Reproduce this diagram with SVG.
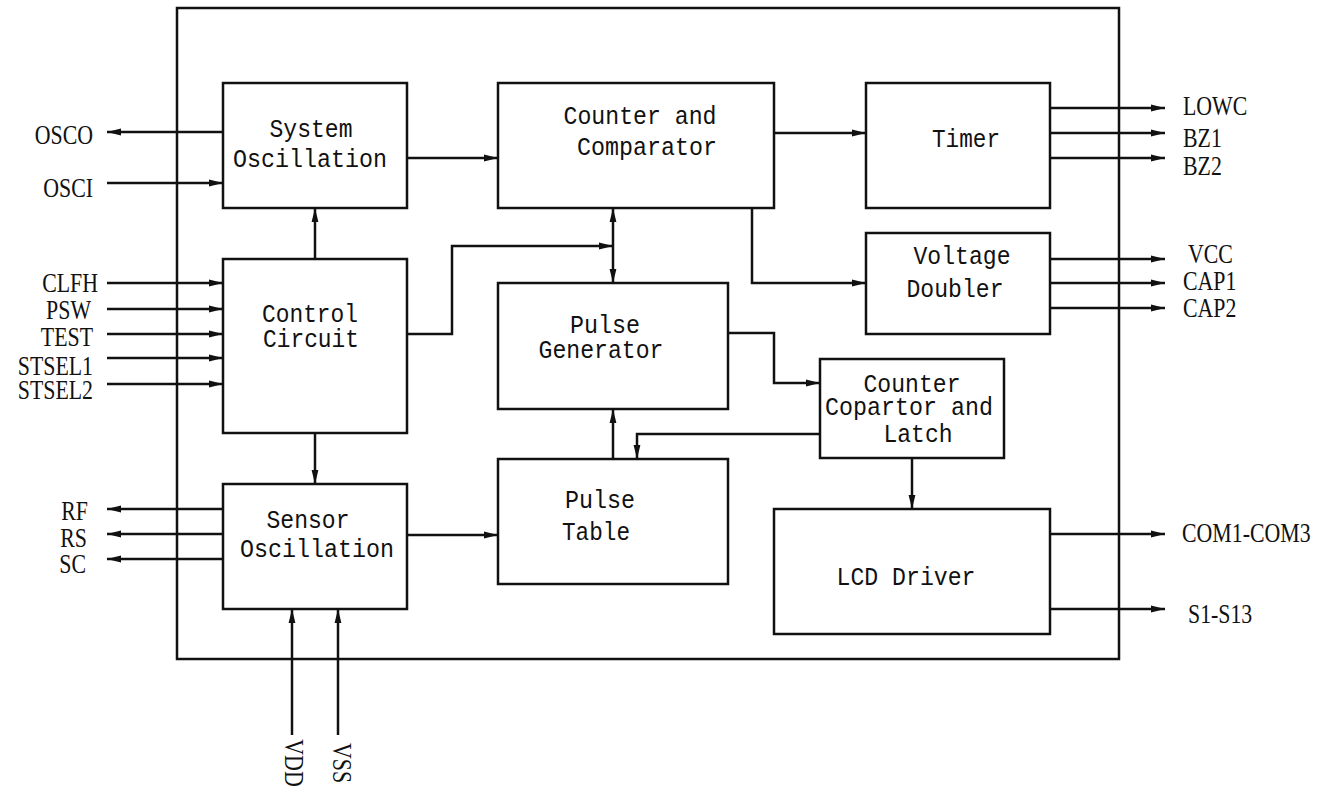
<svg xmlns="http://www.w3.org/2000/svg" width="1320" height="787" viewBox="0 0 1320 787">
<defs>
<marker id="ah" markerUnits="userSpaceOnUse" markerWidth="16" markerHeight="10" refX="15" refY="5" orient="auto-start-reverse">
<path d="M1,1.6 L15,5 L1,8.4 Z" fill="#111"/>
</marker>
<style>
.box{fill:#fff;stroke:#111;stroke-width:2.5}
.outer{fill:none;stroke:#111;stroke-width:2.5}
.c{fill:none;stroke:#111;stroke-width:2.5}
.a{marker-end:url(#ah)}
.b{marker-start:url(#ah);marker-end:url(#ah)}
.t{font-family:"Liberation Mono",monospace;font-size:26px;fill:#111;text-anchor:middle}
.l{font-family:"Liberation Serif",serif;font-size:28px;fill:#111}
.r{text-anchor:end}
.m{text-anchor:middle}
</style>
</defs>
<rect width="1320" height="787" fill="#fff"/>
<rect id="chip" class="outer" x="177" y="8" width="942" height="651"/>

<g id="connectors">
<path class="c a" d="M223,132 H107"/>
<path class="c a" d="M107,183 H223"/>
<path class="c a" d="M107,283 H223"/>
<path class="c a" d="M107,309 H223"/>
<path class="c a" d="M107,334 H223"/>
<path class="c a" d="M107,358 H223"/>
<path class="c a" d="M107,384 H223"/>
<path class="c a" d="M223,509 H107"/>
<path class="c a" d="M223,534 H107"/>
<path class="c a" d="M223,559 H107"/>
<path class="c a" d="M292,735 V609"/>
<path class="c a" d="M338,735 V609"/>
<path class="c a" d="M315,259 V208"/>
<path class="c a" d="M315,433 V484"/>
<path class="c a" d="M407,158 H498"/>
<path class="c a" d="M407,334 H452 V246 H613"/>
<path class="c b" d="M613,208 V283"/>
<path class="c a" d="M774,133 H866"/>
<path class="c a" d="M752,208 V283 H866"/>
<path class="c a" d="M1050,108 H1165"/>
<path class="c a" d="M1050,133 H1165"/>
<path class="c a" d="M1050,158 H1165"/>
<path class="c a" d="M1050,259 H1165"/>
<path class="c a" d="M1050,283 H1165"/>
<path class="c a" d="M1050,308 H1165"/>
<path class="c a" d="M728,333 H774 V383 H820"/>
<path class="c a" d="M820,434 H637 V459"/>
<path class="c a" d="M613,459 V409"/>
<path class="c a" d="M407,535 H498"/>
<path class="c a" d="M912,458 V509"/>
<path class="c a" d="M1050,534 H1165"/>
<path class="c a" d="M1050,609 H1165"/>
</g>

<g id="system-oscillation">
<rect class="box" x="223" y="83" width="184" height="125"/>
<text class="t" x="311" y="137" textLength="83" lengthAdjust="spacingAndGlyphs">System</text>
<text class="t" x="310" y="167" textLength="154" lengthAdjust="spacingAndGlyphs">Oscillation</text>
</g>
<g id="control-circuit">
<rect class="box" x="223" y="259" width="184" height="174"/>
<text class="t" x="310" y="322" textLength="96" lengthAdjust="spacingAndGlyphs">Control</text>
<text class="t" x="311" y="347" textLength="96" lengthAdjust="spacingAndGlyphs">Circuit</text>
</g>
<g id="sensor-oscillation">
<rect class="box" x="223" y="484" width="184" height="125"/>
<text class="t" x="308" y="528" textLength="83" lengthAdjust="spacingAndGlyphs">Sensor</text>
<text class="t" x="317" y="557" textLength="154" lengthAdjust="spacingAndGlyphs">Oscillation</text>
</g>
<g id="counter-comparator">
<rect class="box" x="498" y="83" width="276" height="125"/>
<text class="t" x="640" y="124" textLength="153" lengthAdjust="spacingAndGlyphs">Counter and</text>
<text class="t" x="647" y="155" textLength="140" lengthAdjust="spacingAndGlyphs">Comparator</text>
</g>
<g id="timer">
<rect class="box" x="866" y="83" width="184" height="125"/>
<text class="t" x="966" y="147" textLength="68" lengthAdjust="spacingAndGlyphs">Timer</text>
</g>
<g id="voltage-doubler">
<rect class="box" x="866" y="233" width="184" height="101"/>
<text class="t" x="962" y="264" textLength="97" lengthAdjust="spacingAndGlyphs">Voltage</text>
<text class="t" x="955" y="297" textLength="97" lengthAdjust="spacingAndGlyphs">Doubler</text>
</g>
<g id="pulse-generator">
<rect class="box" x="498" y="283" width="230" height="126"/>
<text class="t" x="605" y="333" textLength="70" lengthAdjust="spacingAndGlyphs">Pulse</text>
<text class="t" x="601" y="358" textLength="125" lengthAdjust="spacingAndGlyphs">Generator</text>
</g>
<g id="pulse-table">
<rect class="box" x="498" y="459" width="230" height="125"/>
<text class="t" x="600" y="508" textLength="70" lengthAdjust="spacingAndGlyphs">Pulse</text>
<text class="t" x="596" y="540" textLength="68" lengthAdjust="spacingAndGlyphs">Table</text>
</g>
<g id="counter-copartor-latch">
<rect class="box" x="820" y="359" width="184" height="99"/>
<text class="t" x="912" y="392" textLength="97" lengthAdjust="spacingAndGlyphs">Counter</text>
<text class="t" x="909" y="415" textLength="168" lengthAdjust="spacingAndGlyphs">Copartor and</text>
<text class="t" x="918" y="442" textLength="69" lengthAdjust="spacingAndGlyphs">Latch</text>
</g>
<g id="lcd-driver">
<rect class="box" x="774" y="509" width="276" height="125"/>
<text class="t" x="906" y="585" textLength="139" lengthAdjust="spacingAndGlyphs">LCD Driver</text>
</g>

<g id="pins">
<text class="l r" transform="matrix(0.78,0,0,1,93,144)">OSCO</text>
<text class="l r" transform="matrix(0.78,0,0,1,93,197)">OSCI</text>
<text class="l r" transform="matrix(0.78,0,0,1,98,292)">CLFH</text>
<text class="l r" transform="matrix(0.78,0,0,1,91,319)">PSW</text>
<text class="l r" transform="matrix(0.78,0,0,1,93,346)">TEST</text>
<text class="l r" transform="matrix(0.78,0,0,1,93,375)">STSEL1</text>
<text class="l r" transform="matrix(0.78,0,0,1,93,399)">STSEL2</text>
<text class="l r" transform="matrix(0.78,0,0,1,88,520)">RF</text>
<text class="l r" transform="matrix(0.78,0,0,1,87,547)">RS</text>
<text class="l r" transform="matrix(0.78,0,0,1,86,573)">SC</text>
<text class="l" transform="matrix(0.78,0,0,1,1183,115)">LOWC</text>
<text class="l" transform="matrix(0.78,0,0,1,1183,147)">BZ1</text>
<text class="l" transform="matrix(0.78,0,0,1,1183,175)">BZ2</text>
<text class="l" transform="matrix(0.78,0,0,1,1188,263)">VCC</text>
<text class="l" transform="matrix(0.78,0,0,1,1183,290)">CAP1</text>
<text class="l" transform="matrix(0.78,0,0,1,1183,317)">CAP2</text>
<text class="l" transform="matrix(0.78,0,0,1,1182,542)">COM1-COM3</text>
<text class="l" transform="matrix(0.78,0,0,1,1188,623)">S1-S13</text>
<text class="l m" transform="translate(285,763) rotate(90) scale(0.78,1)">VDD</text>
<text class="l m" transform="translate(333,763) rotate(90) scale(0.78,1)">VSS</text>
</g>
</svg>
